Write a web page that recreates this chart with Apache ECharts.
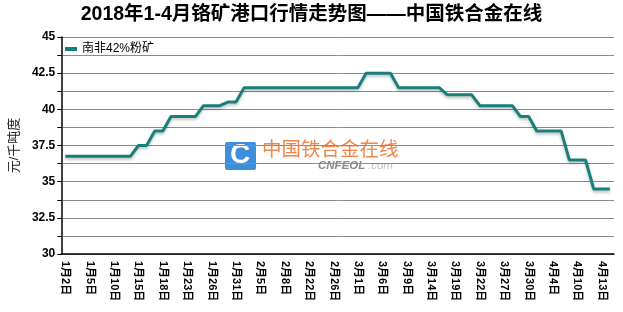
<!DOCTYPE html>
<html>
<head>
<meta charset="utf-8">
<script src="https://cdn.jsdelivr.net/npm/echarts@6/dist/echarts.min.js"></script>
<style>html,body{margin:0;padding:0;background:#fff;}#c{width:623px;height:312px;}</style>
</head>
<body>
<div id="c"></div>
<script>
var titleText = '2018年1-4月铬矿港口行情走势图——中国铁合金在线';
var seriesName = '南非42%粉矿';
var yAxisName = '元/千吨度';
var categories = [
 '1月2日','1月3日','1月4日','1月5日','1月8日','1月9日','1月10日','1月11日','1月12日','1月15日',
 '1月16日','1月17日','1月18日','1月19日','1月22日','1月23日','1月24日','1月25日','1月26日','1月29日',
 '1月30日','1月31日','2月1日','2月2日','2月5日','2月6日','2月7日','2月8日','2月9日','2月12日',
 '2月22日','2月23日','2月24日','2月26日','2月27日','2月28日','3月1日','3月2日','3月5日','3月6日',
 '3月7日','3月8日','3月9日','3月12日','3月13日','3月14日','3月15日','3月16日','3月19日','3月20日',
 '3月21日','3月22日','3月23日','3月26日','3月27日','3月28日','3月29日','3月30日','4月2日','4月3日',
 '4月4日','4月8日','4月9日','4月10日','4月11日','4月12日','4月13日','4月16日'
];
var prices = [
 36.75,36.75,36.75,36.75,36.75,36.75,36.75,36.75,36.75,37.5,
 37.5,38.5,38.5,39.5,39.5,39.5,39.5,40.25,40.25,40.25,
 40.5,40.5,41.5,41.5,41.5,41.5,41.5,41.5,41.5,41.5,
 41.5,41.5,41.5,41.5,41.5,41.5,41.5,42.5,42.5,42.5,
 42.5,41.5,41.5,41.5,41.5,41.5,41.5,41,41,41,
 41,40.25,40.25,40.25,40.25,40.25,39.5,39.5,38.5,38.5,
 38.5,38.5,36.5,36.5,36.5,34.5,34.5,34.5
];
var yTickLabels = [30, 32.5, 35, 37.5, 40, 42.5, 45];

var FONT = '"Liberation Sans","Noto Sans CJK SC",sans-serif';
var chart = echarts.init(document.getElementById('c'), null, {renderer: 'canvas'});
chart.setOption({
  animation: false,
  backgroundColor: '#fff',
  textStyle: {fontFamily: FONT},
  title: {
    text: titleText, left: 'center', top: 0,
    textStyle: {fontSize: 19.5, fontWeight: 'bold', color: '#000', fontFamily: FONT}
  },
  legend: {
    left: 60, top: 38, icon: 'rect', itemWidth: 12, itemHeight: 4, itemGap: 6,
    textStyle: {fontSize: 12, color: '#000', fontFamily: FONT},
    data: [seriesName]
  },
  grid: {left: 58, right: 9, top: 37, bottom: 58},
  graphic: [
    {type: 'rect', left: 225, top: 142, shape: {width: 31, height: 28, r: 2}, style: {fill: '#3d8fd9'}},
    {type: 'text', left: 230, top: 141, style: {text: 'C', fill: '#fff', font: 'bold 28px "Liberation Sans",sans-serif'}},
    {type: 'text', left: 262, top: 139, style: {text: '中国铁合金在线', fill: '#f0874a', font: '19.5px "Noto Sans CJK SC",sans-serif'}},
    {type: 'text', left: 318, top: 160, style: {text: 'CNFEOL', fill: '#8a8a8a', font: 'italic bold 11.5px "Liberation Sans",sans-serif'}},
    {type: 'text', left: 368, top: 160, style: {text: '.com', fill: '#c0c0c0', font: 'italic 11.5px "Liberation Sans",sans-serif'}}
  ],
  xAxis: {
    type: 'category', data: categories, boundaryGap: true,
    axisLine: {lineStyle: {color: '#000', width: 1.5}},
    axisTick: {interval: 2, length: 4, lineStyle: {color: '#000'}},
    axisLabel: {interval: 2, rotate: -90, margin: 7, fontSize: 11, fontWeight: 'bold', color: '#000', fontFamily: FONT},
    splitLine: {show: false}
  },
  yAxis: {
    type: 'value', min: 30, max: 45, interval: 1.25,
    name: yAxisName, nameLocation: 'middle', nameGap: 34, nameRotate: 90,
    nameTextStyle: {fontSize: 13, color: '#222', fontFamily: FONT},
    axisLine: {show: true, lineStyle: {color: '#000', width: 1.5}},
    axisTick: {show: true, length: 4, lineStyle: {color: '#000'}},
    axisLabel: {
      fontSize: 12, fontWeight: 'bold', color: '#000', margin: 6, fontFamily: FONT,
      formatter: function (v) { return yTickLabels.indexOf(v) >= 0 ? String(v) : ''; }
    },
    splitLine: {show: true, lineStyle: {color: '#8c8c8c', width: 1}}
  },
  series: [{
    name: seriesName, type: 'line', data: prices, symbol: 'none',
    itemStyle: {color: '#17807a'},
    lineStyle: {color: '#17807a', width: 3, shadowColor: 'rgba(0,0,0,0.25)', shadowBlur: 3, shadowOffsetY: 2}
  }]
});
</script>
</body>
</html>
